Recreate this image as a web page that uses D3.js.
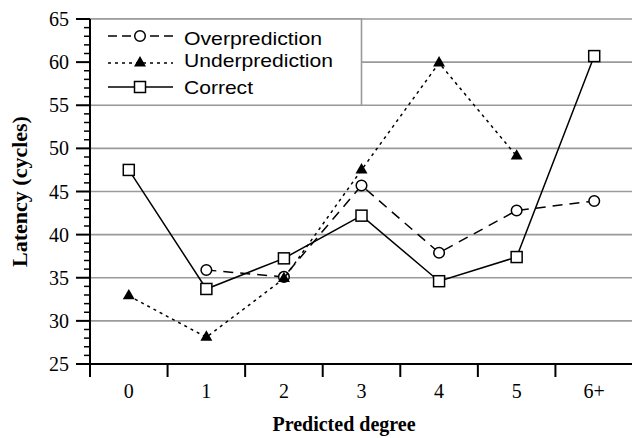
<!DOCTYPE html>
<html>
<head>
<meta charset="utf-8">
<script src="https://cdn.jsdelivr.net/npm/d3@7/dist/d3.min.js"></script>
<style>
  html, body { margin: 0; padding: 0; background: #fff; }
  svg { display: block; }
</style>
</head>
<body>
<svg id="chart" width="632" height="438"></svg>
<script>
// Latency by predicted degree
const categories = ["0", "1", "2", "3", "4", "5", "6+"];
const overprediction  = [null, 35.9, 35.1, 45.7, 37.9, 42.8, 43.9];
const underprediction = [32.9, 28.1, 34.9, 47.5, 59.9, 49.1, null];
const correct         = [47.5, 33.7, 37.25, 42.2, 34.6, 37.4, 60.7];
const yTicks = [25, 30, 35, 40, 45, 50, 55, 60, 65];
const seriesNames = ["Overprediction", "Underprediction", "Correct"];

const svg = d3.select("#chart");
const plotLeft = 90, plotRight = 633, plotTop = 19, plotBottom = 364;

const x = d3.scaleBand().domain(categories).range([plotLeft, plotRight]).paddingInner(0).paddingOuter(0);
const y = d3.scaleLinear().domain([25, 65]).range([plotBottom, plotTop]);

const grid = "#9a9a9a";

// horizontal gridlines
svg.append("g").selectAll("line")
  .data(yTicks.filter(v => v > 25))
  .join("line")
  .attr("x1", plotLeft).attr("x2", plotRight)
  .attr("y1", d => y(d)).attr("y2", d => y(d))
  .attr("stroke", grid).attr("stroke-width", 1.6);

// legend box
const legendRight = 361.5;
svg.append("rect")
  .attr("x", plotLeft).attr("y", y(65))
  .attr("width", legendRight - plotLeft).attr("height", y(55) - y(65))
  .attr("fill", "#fff").attr("stroke", grid).attr("stroke-width", 1.6);

// series
const series = [
  { name: seriesNames[0], values: overprediction,  dash: "10,7", marker: "circle" },
  { name: seriesNames[1], values: underprediction, dash: "3,4",  marker: "triangle" },
  { name: seriesNames[2], values: correct,         dash: null,   marker: "square" }
];

const cx = c => x(c) + x.bandwidth() / 2;
const line = d3.line()
  .defined(d => d.v != null)
  .x(d => cx(d.c)).y(d => y(d.v));

function drawMarker(g, type, px, py) {
  if (type === "circle") {
    g.append("circle").attr("cx", px).attr("cy", py).attr("r", 5.3)
      .attr("fill", "#fff").attr("stroke", "#000").attr("stroke-width", 1.5);
  } else if (type === "square") {
    g.append("rect").attr("x", px - 5.5).attr("y", py - 5.5)
      .attr("width", 11).attr("height", 11)
      .attr("fill", "#fff").attr("stroke", "#000").attr("stroke-width", 1.5);
  } else {
    g.append("path")
      .attr("d", d3.symbol().type(d3.symbolTriangle).size(62)())
      .attr("transform", `translate(${px},${py})`)
      .attr("fill", "#000");
  }
}

series.forEach(s => {
  const pts = categories.map((c, i) => ({ c, v: s.values[i] }));
  svg.append("path").datum(pts)
    .attr("d", line)
    .attr("fill", "none").attr("stroke", "#000").attr("stroke-width", 1.5)
    .attr("stroke-dasharray", s.dash);
  const g = svg.append("g");
  pts.filter(p => p.v != null).forEach(p => drawMarker(g, s.marker, cx(p.c), y(p.v)));
});

// y axis with major and minor ticks
const yAxis = svg.append("g");
yAxis.append("line").attr("x1", plotLeft).attr("x2", plotLeft)
  .attr("y1", plotTop).attr("y2", plotBottom + 13)
  .attr("stroke", "#000").attr("stroke-width", 2);
yAxis.selectAll("line.minor")
  .data(d3.range(25, 66, 1).filter(v => v % 5 !== 0))
  .join("line").attr("class", "minor")
  .attr("x1", plotLeft - 6).attr("x2", plotLeft)
  .attr("y1", d => y(d)).attr("y2", d => y(d))
  .attr("stroke", "#000").attr("stroke-width", 1.5);
yAxis.selectAll("line.major")
  .data(yTicks)
  .join("line").attr("class", "major")
  .attr("x1", plotLeft - 14).attr("x2", plotLeft)
  .attr("y1", d => y(d)).attr("y2", d => y(d))
  .attr("stroke", "#000").attr("stroke-width", 2);
yAxis.selectAll("text")
  .data(yTicks)
  .join("text")
  .attr("x", 69).attr("y", d => y(d) + 7)
  .attr("text-anchor", "end")
  .attr("font-family", "'Liberation Serif', 'Times New Roman', serif")
  .attr("font-size", 20)
  .text(d => d);

// x axis
const xAxis = svg.append("g");
xAxis.append("line").attr("x1", plotLeft).attr("x2", plotRight)
  .attr("y1", plotBottom).attr("y2", plotBottom)
  .attr("stroke", "#000").attr("stroke-width", 2);
xAxis.selectAll("line.tick")
  .data(categories.slice(1))
  .join("line").attr("class", "tick")
  .attr("x1", d => x(d)).attr("x2", d => x(d))
  .attr("y1", plotBottom).attr("y2", plotBottom + 13)
  .attr("stroke", "#000").attr("stroke-width", 2);
xAxis.selectAll("text")
  .data(categories)
  .join("text")
  .attr("x", d => cx(d)).attr("y", 398)
  .attr("text-anchor", "middle")
  .attr("font-family", "'Liberation Serif', 'Times New Roman', serif")
  .attr("font-size", 20)
  .text(d => d);

// axis titles
svg.append("text")
  .attr("transform", `translate(27,${(plotTop + plotBottom) / 2}) rotate(-90)`)
  .attr("text-anchor", "middle")
  .attr("font-family", "'Liberation Serif', 'Times New Roman', serif")
  .attr("font-weight", "bold").attr("font-size", 22)
  .text("Latency (cycles)");
svg.append("text")
  .attr("x", 344).attr("y", 431)
  .attr("text-anchor", "middle")
  .attr("font-family", "'Liberation Serif', 'Times New Roman', serif")
  .attr("font-weight", "bold").attr("font-size", 20)
  .text("Predicted degree");

// legend entries
const legendRows = [36, 63, 87];
const textBase = [45, 67, 93.5];
const textLen = [138, 149, 69];
series.forEach((s, i) => {
  const g = svg.append("g");
  g.append("line").attr("x1", 108).attr("x2", 173)
    .attr("y1", legendRows[i]).attr("y2", legendRows[i])
    .attr("stroke", "#000").attr("stroke-width", 1.5)
    .attr("stroke-dasharray", s.dash ? (i === 0 ? "9,5" : "3,4") : null);
  drawMarker(g, s.marker, 140, legendRows[i]);
  g.append("text")
    .attr("x", 184).attr("y", textBase[i])
    .attr("font-family", "'Liberation Sans', Arial, sans-serif")
    .attr("font-size", 19)
    .attr("textLength", textLen[i]).attr("lengthAdjust", "spacingAndGlyphs")
    .text(s.name);
});
</script>
</body>
</html>
